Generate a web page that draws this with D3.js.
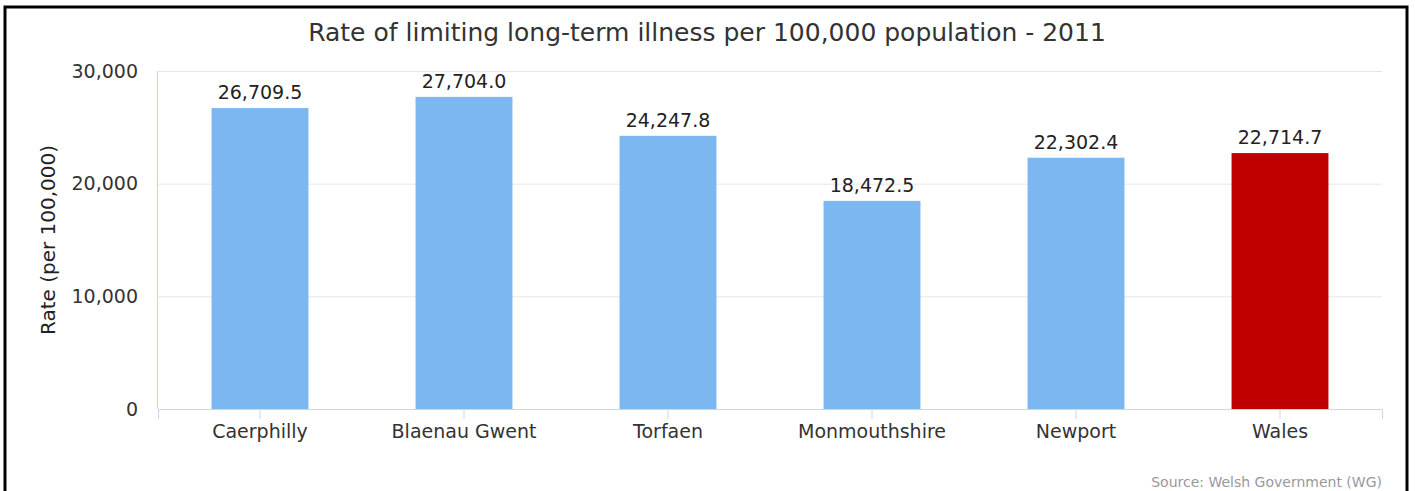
<!DOCTYPE html>
<html>
<head>
    <title>Limiting long-term illness</title>
    <script src="https://d3js.org/d3.v7.min.js"></script>
    <style>
        body { margin: 0; background: #fff; }
        svg { display: block; font-family: "DejaVu Sans", Verdana, sans-serif; }
    </style>
</head>
<body>
<svg width="1415" height="491"></svg>
<script>
    var categories = ["Caerphilly", "Blaenau Gwent", "Torfaen", "Monmouthshire", "Newport", "Wales"];
    var rates = [26709.5, 27704.0, 24247.8, 18472.5, 22302.4, 22714.7];
    var yTicks = [0, 10000, 20000, 30000];
    var highlight = "Wales";

    var svg = d3.select("svg"),
        margin = {top: 71, right: 33, bottom: 82, left: 158},
        width = +svg.attr("width") - margin.left - margin.right,
        height = +svg.attr("height") - margin.top - margin.bottom;

    // frame round the chart (no bottom edge in the picture)
    svg.append("path")
        .attr("d", "M5,491 V7 H1407 V491")
        .attr("fill", "none")
        .attr("stroke", "#000")
        .attr("stroke-width", 3);

    var x = d3.scaleBand().domain(categories).range([0, width]),
        y = d3.scaleLinear().domain([0, 30000]).range([height, 0]);

    var g = svg.append("g")
        .attr("transform", "translate(" + margin.left + "," + margin.top + ")");

    // gridlines
    g.selectAll(".grid")
        .data(yTicks.filter(function(d) { return d > 0; }))
        .enter().append("line")
        .attr("x1", 0).attr("x2", width)
        .attr("y1", function(d) { return y(d) + 0.5; })
        .attr("y2", function(d) { return y(d) + 0.5; })
        .attr("stroke", "#e6e6e6");

    // y axis
    var yAxis = g.append("g")
        .call(d3.axisLeft(y).tickValues(yTicks).tickSize(0).tickPadding(20).tickFormat(d3.format(",")))
        .attr("font-family", null).attr("font-size", null);
    yAxis.select(".domain").remove();
    yAxis.selectAll("text").attr("font-size", 19).attr("fill", "#333");

    g.append("line")
        .attr("x1", -0.5).attr("x2", -0.5)
        .attr("y1", 0).attr("y2", height)
        .attr("stroke", "#ccd6eb");

    // bars
    var bw = x.bandwidth() * 0.475;
    g.selectAll(".bar")
        .data(rates)
        .enter().append("rect")
        .attr("class", "bar")
        .attr("x", function(d, i) { return x(categories[i]) + (x.bandwidth() - bw) / 2; })
        .attr("y", function(d) { return y(d); })
        .attr("width", bw)
        .attr("height", function(d) { return height - y(d); })
        .attr("fill", function(d, i) { return categories[i] === highlight ? "#c00000" : "#7cb7f0"; });

    // value labels
    g.selectAll(".lbl")
        .data(rates)
        .enter().append("text")
        .attr("x", function(d, i) { return x(categories[i]) + x.bandwidth() / 2; })
        .attr("y", function(d) { return y(d) - 9; })
        .attr("text-anchor", "middle")
        .attr("font-size", 19)
        .attr("fill", "#222")
        .text(function(d) { return d3.format(",.1f")(d); });

    // x axis
    var xAxis = g.append("g")
        .attr("transform", "translate(0," + height + ")")
        .call(d3.axisBottom(x).tickSize(10).tickPadding(6))
        .attr("font-family", null).attr("font-size", null);
    xAxis.select(".domain").attr("stroke", "#ccd6eb");
    xAxis.selectAll(".tick line").attr("stroke", "#ccd6eb");
    xAxis.selectAll("text").attr("font-size", 19).attr("fill", "#333");

    // titles
    svg.append("text")
        .attr("x", 707)
        .attr("y", 41)
        .attr("text-anchor", "middle")
        .attr("font-size", 25)
        .attr("fill", "#333")
        .text("Rate of limiting long-term illness per 100,000 population - 2011");

    svg.append("text")
        .attr("transform", "translate(55," + (margin.top + height / 2) + ") rotate(-90)")
        .attr("text-anchor", "middle")
        .attr("font-size", 20)
        .attr("fill", "#222")
        .text("Rate (per 100,000)");

    svg.append("text")
        .attr("x", 1382)
        .attr("y", 487)
        .attr("text-anchor", "end")
        .attr("font-size", 14)
        .attr("fill", "#999")
        .text("Source: Welsh Government (WG)");
</script>
</body>
</html>
